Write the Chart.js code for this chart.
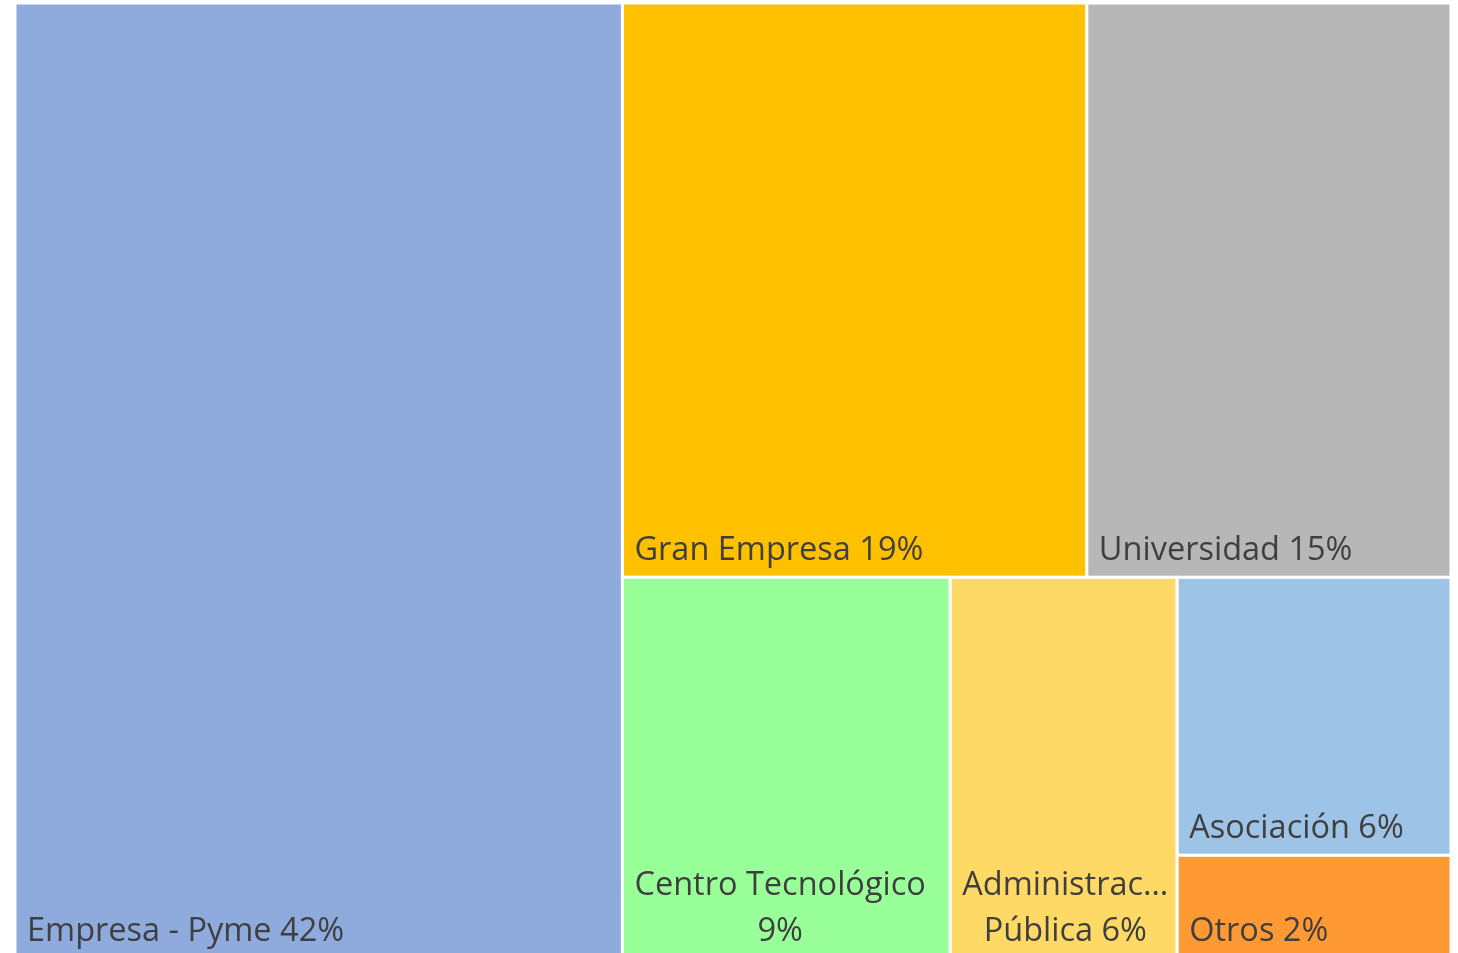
<!DOCTYPE html>
<html>
<head>
<meta charset="utf-8">
<script src="https://cdn.jsdelivr.net/npm/chart.js@4"></script>
<style>
  body { margin: 0; overflow: hidden; background: #fff; }
  #wrap { width: 1458px; height: 962px; }
</style>
</head>
<body>
<div id="wrap"><canvas id="treemap"></canvas></div>
<script>
// Treemap data (shares)
const categories = ['Empresa - Pyme', 'Gran Empresa', 'Universidad', 'Centro Tecnológico', 'Administración Pública', 'Asociación', 'Otros']
const shares = [42.3, 19.45, 15.25, 9.1, 6.3, 5.55, 2.05]
const colors = ['#8FAADC', '#FFC000', '#B7B7B7', '#99FF99', '#FFD966', '#9DC3E6', '#FF9933']

// worst aspect ratio of a row laid along a side of length s
function worst(row, s) {
  const sum = row.reduce((a, b) => a + b, 0)
  const max = Math.max(...row), min = Math.min(...row)
  return Math.max((s * s * max) / (sum * sum), (sum * sum) / (s * s * min))
}

// squarified layout, returns rects in the given width/height units
function squarify(values, width, height) {
  const total = values.reduce((a, b) => a + b, 0)
  const areas = values.map(v => v / total * width * height)
  const rects = []
  let x = 0, y = 0, w = width, h = height, i = 0
  while (i < areas.length) {
    const side = Math.min(w, h)
    const row = [areas[i]]
    let j = i + 1
    while (j < areas.length && worst(row.concat(areas[j]), side) <= worst(row, side)) {
      row.push(areas[j])
      j++
    }
    const rowArea = row.reduce((a, b) => a + b, 0)
    if (w >= h) {
      const colW = rowArea / h
      let cy = y
      row.forEach(a => { const rh = a / colW; rects.push({ x, y: cy, w: colW, h: rh }); cy += rh })
      x += colW; w -= colW
    } else {
      const rowH = rowArea / w
      let cx = x
      row.forEach(a => { const rw = a / rowH; rects.push({ x: cx, y, w: rw, h: rowH }); cx += rw })
      y += rowH; h -= rowH
    }
    i = j
  }
  return rects
}

// wrap label words into lines that fit, truncating long words with an ellipsis
function wrapLabel(ctx, text, maxW) {
  const words = text.split(' ')
  const lines = []
  let cur = ''
  const fit = word => {
    if (ctx.measureText(word).width <= maxW) return word
    let s = word
    while (s.length > 1 && ctx.measureText(s + '…').width > maxW) s = s.slice(0, -1)
    return s + '…'
  }
  words.forEach(word => {
    const test = cur ? cur + ' ' + word : word
    if (ctx.measureText(test).width <= maxW) {
      cur = test
    } else {
      if (cur) lines.push(cur)
      cur = fit(word)
    }
  })
  if (cur) lines.push(cur)
  return lines
}

const treemapPlugin = {
  id: 'treemap',
  afterDatasetsDraw(chart) {
    const { ctx, chartArea, scales } = chart
    const W = chartArea.width, H = chartArea.height
    const total = shares.reduce((a, b) => a + b, 0)
    const rects = squarify(shares, W, H)

    ctx.save()
    rects.forEach((r, k) => {
      // convert to data units and map through the scales
      const left = scales.x.getPixelForValue(r.x / W)
      const right = scales.x.getPixelForValue((r.x + r.w) / W)
      const top = scales.y.getPixelForValue(r.y / H)
      const bottom = scales.y.getPixelForValue((r.y + r.h) / H)

      ctx.fillStyle = colors[k]
      ctx.fillRect(left, top, right - left, bottom - top)
      ctx.strokeStyle = '#ffffff'
      ctx.lineWidth = 3
      ctx.strokeRect(left, top, right - left, bottom - top)

      // label, bottom-left, lines centered inside the block
      ctx.font = '32.5px "Open Sans"'
      ctx.fillStyle = '#3F3F3F'
      ctx.textBaseline = 'alphabetic'
      const pct = Math.round(shares[k] / total * 100) + '%'
      const lines = wrapLabel(ctx, categories[k] + ' ' + pct, right - left - 20)
      const blockW = Math.max(...lines.map(l => ctx.measureText(l).width))
      const lineH = 46
      const cx = left + 12 + blockW / 2
      ctx.textAlign = 'center'
      lines.forEach((l, n) => {
        const by = bottom - 17 - (lines.length - 1 - n) * lineH
        ctx.fillText(l, cx, by)
      })
    })
    ctx.restore()
  }
}

new Chart(document.getElementById('treemap'), {
  type: 'scatter',
  data: {
    datasets: [{ data: [], pointRadius: 0 }]
  },
  options: {
    responsive: true,
    maintainAspectRatio: false,
    animation: false,
    layout: { padding: { left: 15, right: 7, top: 3, bottom: 4 } },
    plugins: {
      legend: { display: false },
      tooltip: { enabled: false }
    },
    scales: {
      x: { type: 'linear', min: 0, max: 1, display: false },
      y: { type: 'linear', min: 0, max: 1, reverse: true, display: false }
    }
  },
  plugins: [treemapPlugin]
})
</script>
</body>
</html>
